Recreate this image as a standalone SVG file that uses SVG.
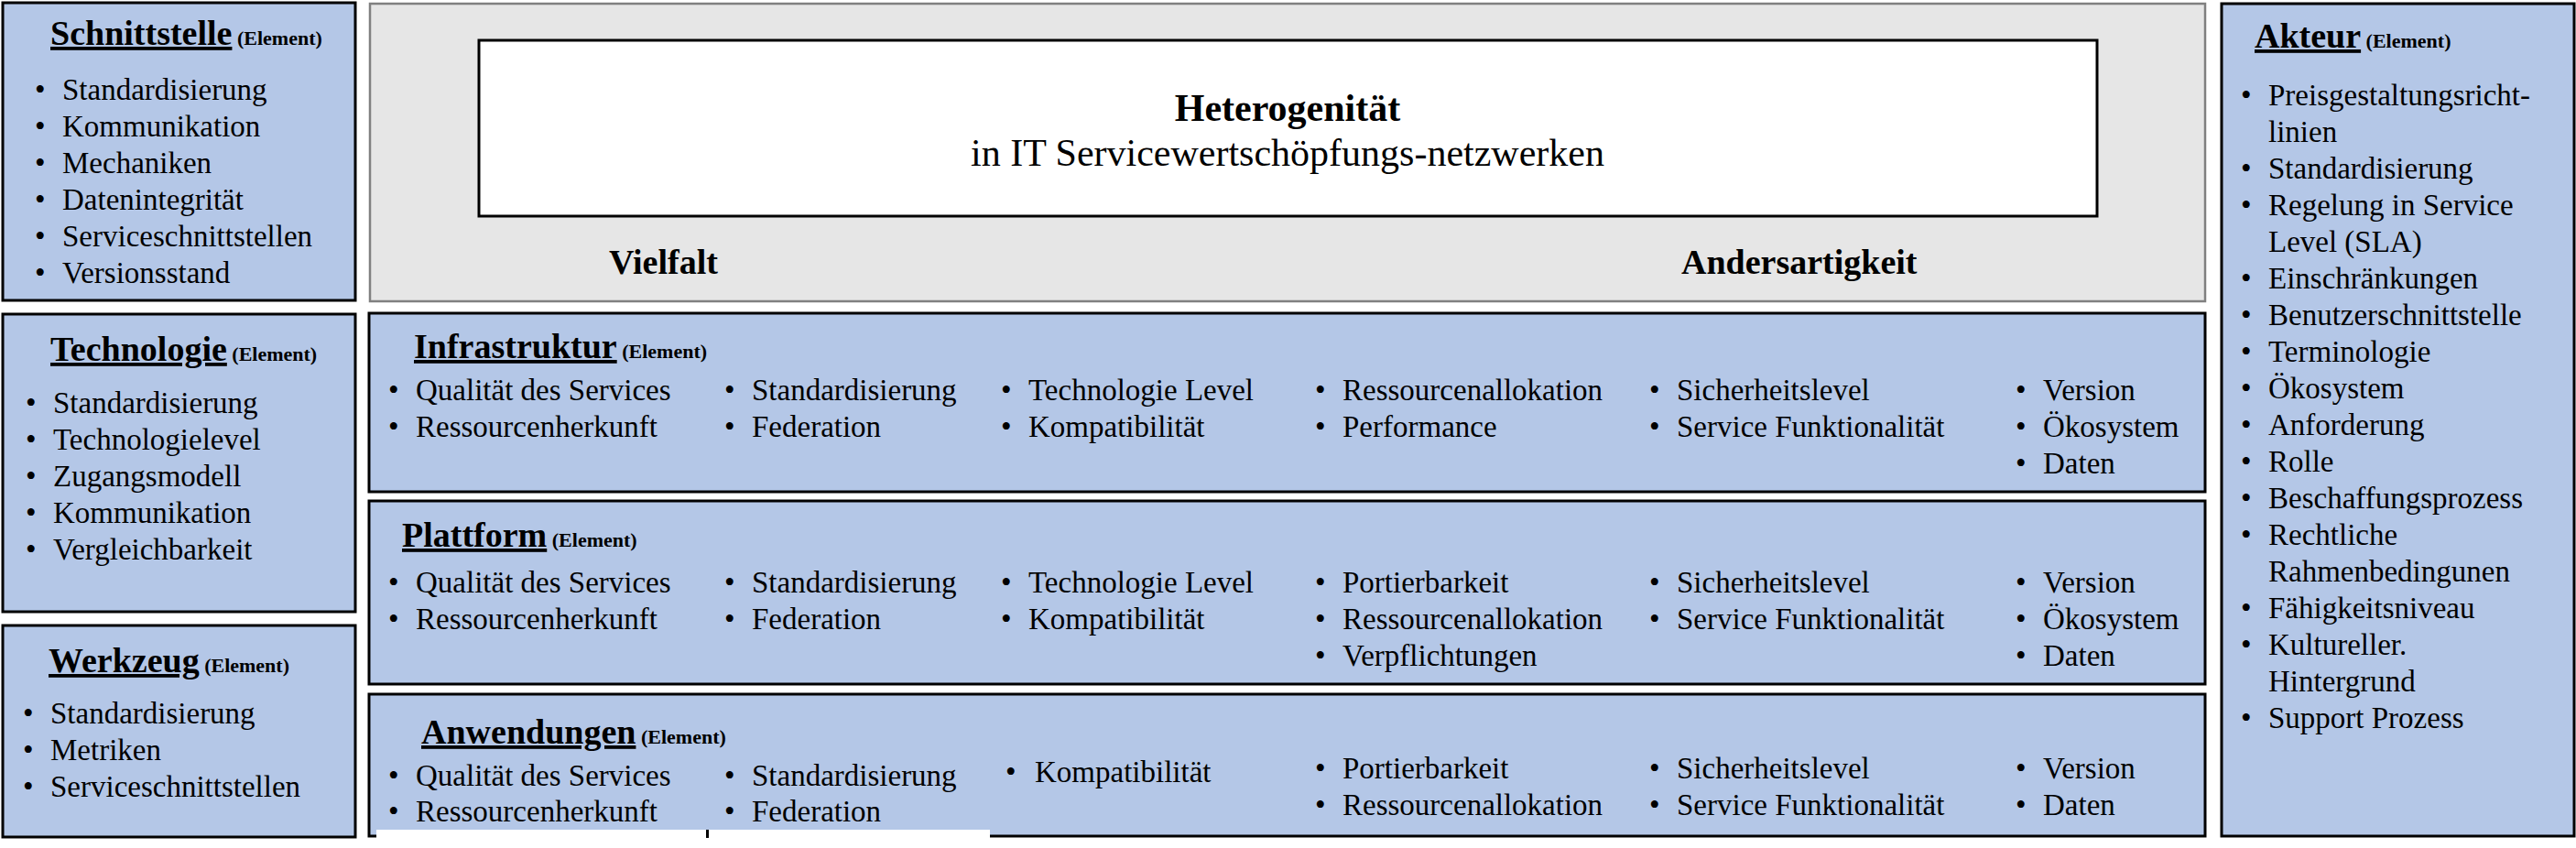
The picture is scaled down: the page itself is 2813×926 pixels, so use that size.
<svg xmlns="http://www.w3.org/2000/svg" width="2813" height="926" viewBox="0 0 2813 926">
<style>
.box{fill:#B4C7E7;stroke:#000;stroke-width:3}
.gray{fill:#E6E6E6;stroke:#808080;stroke-width:2.5}
.white{fill:#FFF;stroke:#000;stroke-width:3}
text{font-family:"Liberation Serif","Times New Roman",serif;fill:#000}
.t{font-size:33px}
.h{font-size:38px;font-weight:bold}
.u{text-decoration:underline}
.el{font-size:22px;font-weight:bold}
.big{font-size:42px}
.bb{font-size:38px;font-weight:bold}
</style>
<rect width="2813" height="926" fill="#FFF"/>

<g id="schnittstelle">
<rect class="box" x="3" y="3" width="385" height="325"/>
<text x="55" y="49" class="h"><tspan class="u">Schnittstelle</tspan><tspan class="el"> (Element)</tspan></text>
<g class="t">
<text x="38" y="109">•</text><text x="68" y="109">Standardisierung</text>
<text x="38" y="149">•</text><text x="68" y="149">Kommunikation</text>
<text x="38" y="189">•</text><text x="68" y="189">Mechaniken</text>
<text x="38" y="229">•</text><text x="68" y="229">Datenintegrität</text>
<text x="38" y="269">•</text><text x="68" y="269">Serviceschnittstellen</text>
<text x="38" y="309">•</text><text x="68" y="309">Versionsstand</text>
</g>
</g>

<g id="technologie">
<rect class="box" x="3" y="343" width="385" height="325"/>
<text x="55" y="394" class="h"><tspan class="u">Technologie</tspan><tspan class="el"> (Element)</tspan></text>
<g class="t">
<text x="28" y="451">•</text><text x="58" y="451">Standardisierung</text>
<text x="28" y="491">•</text><text x="58" y="491">Technologielevel</text>
<text x="28" y="531">•</text><text x="58" y="531">Zugangsmodell</text>
<text x="28" y="571">•</text><text x="58" y="571">Kommunikation</text>
<text x="28" y="611">•</text><text x="58" y="611">Vergleichbarkeit</text>
</g>
</g>

<g id="werkzeug">
<rect class="box" x="3" y="683" width="385" height="231"/>
<text x="53" y="734" class="h"><tspan class="u">Werkzeug</tspan><tspan class="el"> (Element)</tspan></text>
<g class="t">
<text x="25" y="790">•</text><text x="55" y="790">Standardisierung</text>
<text x="25" y="830">•</text><text x="55" y="830">Metriken</text>
<text x="25" y="870">•</text><text x="55" y="870">Serviceschnittstellen</text>
</g>
</g>

<g id="heterogenitaet">
<rect class="gray" x="404" y="4" width="2004" height="325"/>
<rect class="white" x="523" y="44" width="1767" height="192"/>
<text x="1406" y="132" class="big" font-weight="bold" text-anchor="middle">Heterogenität</text>
<text x="1406" y="181" class="big" text-anchor="middle">in IT Servicewertschöpfungs-netzwerken</text>
<text x="665" y="299" class="bb">Vielfalt</text>
<text x="1836" y="299" class="bb">Andersartigkeit</text>
</g>

<g id="infrastruktur">
<rect class="box" x="403" y="342" width="2005" height="195"/>
<text x="452" y="391" class="h"><tspan class="u">Infrastruktur</tspan><tspan class="el"> (Element)</tspan></text>
<g class="t">
<text x="424" y="437">•</text><text x="454" y="437">Qualität des Services</text>
<text x="424" y="477">•</text><text x="454" y="477">Ressourcenherkunft</text>
<text x="791" y="437">•</text><text x="821" y="437">Standardisierung</text>
<text x="791" y="477">•</text><text x="821" y="477">Federation</text>
<text x="1093" y="437">•</text><text x="1123" y="437">Technologie Level</text>
<text x="1093" y="477">•</text><text x="1123" y="477">Kompatibilität</text>
<text x="1436" y="437">•</text><text x="1466" y="437">Ressourcenallokation</text>
<text x="1436" y="477">•</text><text x="1466" y="477">Performance</text>
<text x="1801" y="437">•</text><text x="1831" y="437">Sicherheitslevel</text>
<text x="1801" y="477">•</text><text x="1831" y="477">Service Funktionalität</text>
<text x="2201" y="437">•</text><text x="2231" y="437">Version</text>
<text x="2201" y="477">•</text><text x="2231" y="477">Ökosystem</text>
<text x="2201" y="517">•</text><text x="2231" y="517">Daten</text>
</g>
</g>

<g id="plattform">
<rect class="box" x="403" y="547" width="2005" height="200"/>
<text x="439" y="597" class="h"><tspan class="u">Plattform</tspan><tspan class="el"> (Element)</tspan></text>
<g class="t">
<text x="424" y="647">•</text><text x="454" y="647">Qualität des Services</text>
<text x="424" y="687">•</text><text x="454" y="687">Ressourcenherkunft</text>
<text x="791" y="647">•</text><text x="821" y="647">Standardisierung</text>
<text x="791" y="687">•</text><text x="821" y="687">Federation</text>
<text x="1093" y="647">•</text><text x="1123" y="647">Technologie Level</text>
<text x="1093" y="687">•</text><text x="1123" y="687">Kompatibilität</text>
<text x="1436" y="647">•</text><text x="1466" y="647">Portierbarkeit</text>
<text x="1436" y="687">•</text><text x="1466" y="687">Ressourcenallokation</text>
<text x="1436" y="727">•</text><text x="1466" y="727">Verpflichtungen</text>
<text x="1801" y="647">•</text><text x="1831" y="647">Sicherheitslevel</text>
<text x="1801" y="687">•</text><text x="1831" y="687">Service Funktionalität</text>
<text x="2201" y="647">•</text><text x="2231" y="647">Version</text>
<text x="2201" y="687">•</text><text x="2231" y="687">Ökosystem</text>
<text x="2201" y="727">•</text><text x="2231" y="727">Daten</text>
</g>
</g>

<g id="anwendungen">
<rect class="box" x="403" y="758" width="2005" height="155"/>
<rect x="411" y="906" width="670" height="11" fill="#FFF"/>
<rect x="771" y="906" width="3" height="9" fill="#000"/>
<text x="460" y="812" class="h"><tspan class="u">Anwendungen</tspan><tspan class="el"> (Element)</tspan></text>
<g class="t">
<text x="424" y="858">•</text><text x="454" y="858">Qualität des Services</text>
<text x="424" y="897">•</text><text x="454" y="897">Ressourcenherkunft</text>
<text x="791" y="858">•</text><text x="821" y="858">Standardisierung</text>
<text x="791" y="897">•</text><text x="821" y="897">Federation</text>
<text x="1098" y="854">•</text><text x="1130" y="854">Kompatibilität</text>
<text x="1436" y="850">•</text><text x="1466" y="850">Portierbarkeit</text>
<text x="1436" y="890">•</text><text x="1466" y="890">Ressourcenallokation</text>
<text x="1801" y="850">•</text><text x="1831" y="850">Sicherheitslevel</text>
<text x="1801" y="890">•</text><text x="1831" y="890">Service Funktionalität</text>
<text x="2201" y="850">•</text><text x="2231" y="850">Version</text>
<text x="2201" y="890">•</text><text x="2231" y="890">Daten</text>
</g>
</g>

<g id="akteur">
<rect class="box" x="2426" y="4" width="385" height="909"/>
<text x="2462" y="52" class="h"><tspan class="u">Akteur</tspan><tspan class="el"> (Element)</tspan></text>
<g class="t">
<text x="2447" y="115">•</text><text x="2477" y="115">Preisgestaltungsricht-</text>
<text x="2477" y="155">linien</text>
<text x="2447" y="195">•</text><text x="2477" y="195">Standardisierung</text>
<text x="2447" y="235">•</text><text x="2477" y="235">Regelung in Service</text>
<text x="2477" y="275">Level (SLA)</text>
<text x="2447" y="315">•</text><text x="2477" y="315">Einschränkungen</text>
<text x="2447" y="355">•</text><text x="2477" y="355">Benutzerschnittstelle</text>
<text x="2447" y="395">•</text><text x="2477" y="395">Terminologie</text>
<text x="2447" y="435">•</text><text x="2477" y="435">Ökosystem</text>
<text x="2447" y="475">•</text><text x="2477" y="475">Anforderung</text>
<text x="2447" y="515">•</text><text x="2477" y="515">Rolle</text>
<text x="2447" y="555">•</text><text x="2477" y="555">Beschaffungsprozess</text>
<text x="2447" y="595">•</text><text x="2477" y="595">Rechtliche</text>
<text x="2477" y="635">Rahmenbedingunen</text>
<text x="2447" y="675">•</text><text x="2477" y="675">Fähigkeitsniveau</text>
<text x="2447" y="715">•</text><text x="2477" y="715">Kultureller.</text>
<text x="2477" y="755">Hintergrund</text>
<text x="2447" y="795">•</text><text x="2477" y="795">Support Prozess</text>
</g>
</g>

<g id="connectors"></g>
</svg>
